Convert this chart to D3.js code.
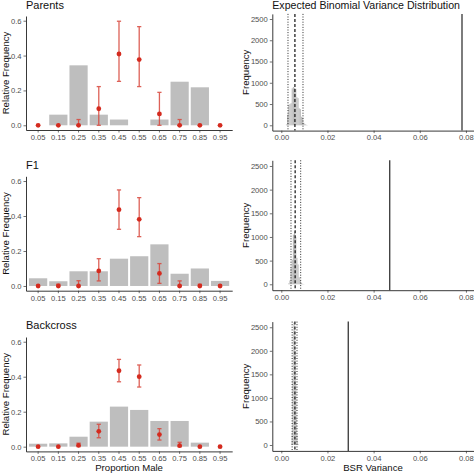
<!DOCTYPE html>
<html><head><meta charset="utf-8">
<script src="https://cdn.jsdelivr.net/npm/d3@7"></script>
<style>
body{margin:0;background:#fff}
svg{display:block}
text{font-family:"Liberation Sans",Arial,Helvetica,sans-serif}
</style>
</head><body>
<svg id="c" width="474" height="474"></svg>
<script>
// ---------- data ----------
const categories = ["0.05","0.15","0.25","0.35","0.45","0.55","0.65","0.75","0.85","0.95"];
const panelTitles = ["Parents","F1","Backcross"];
const rightTitle = "Expected Binomial Variance Distribution";

const barParents   = [0, 0.061, 0.344, 0.061, 0.033, 0, 0.033, 0.25, 0.218, 0];
const barF1        = [0.044, 0.027, 0.084, 0.084, 0.156, 0.17, 0.238, 0.07, 0.10, 0.029];
const barBackcross = [0.017, 0.019, 0.057, 0.143, 0.229, 0.21, 0.147, 0.147, 0.023, 0];

const ptParents   = [0, 0, 0, 0.095, 0.409, 0.377, 0.065, 0, 0, 0];
const loParents   = [0, 0, 0, 0, 0.252, 0.222, 0, 0, 0, 0];
const hiParents   = [0, 0, 0.033, 0.222, 0.597, 0.566, 0.189, 0.033, 0, 0];

const ptF1   = [0, 0, 0, 0.086, 0.436, 0.381, 0.072, 0, 0, 0];
const loF1   = [0, 0, 0, 0.029, 0.324, 0.282, 0.015, 0, 0, 0];
const hiF1   = [0, 0.01, 0.03, 0.156, 0.549, 0.505, 0.128, 0.029, 0.01, 0];

const ptBackcross = [0, 0, 0.008, 0.088, 0.434, 0.40, 0.069, 0.006, 0, 0];
const loBackcross = [0, 0, 0, 0.051, 0.371, 0.341, 0.038, 0, 0, 0];
const hiBackcross = [0, 0, 0.02, 0.128, 0.499, 0.467, 0.103, 0.025, 0, 0];

const leftYTicks = [0, 0.2, 0.4, 0.6];
const rightYTicks = [0, 500, 1000, 1500, 2000, 2500];
const rightXTicks = [0, 0.02, 0.04, 0.06, 0.08];

// simulated variance histograms (bin start, count)
const histStartParents = [0.0020,0.0025,0.0030,0.0035,0.0040,0.0045,0.0050,0.0055,0.0060,0.0065,0.0070,0.0075,0.0080,0.0085,0.0090,0.0095,0.0100,0.0105,0.0110];
const histCountParents = [20,250,480,500,520,870,900,880,860,660,640,400,380,200,180,60,30,12,5];
const histWidthParents = 0.0005;

const histStartF1 = [0.0030,0.0035,0.0040,0.0045,0.0050,0.0055,0.0060,0.0065,0.0070,0.0075,0.0080,0.0085,0.0090,0.0095];
const histCountF1 = [20,80,350,520,1050,1120,1000,560,420,150,80,30,10,5];
const histWidthF1 = 0.0005;

const histStartBackcross = [0.00425,0.0045,0.00475,0.0050,0.00525,0.0055,0.00575,0.0060,0.00625,0.0065,0.00675,0.0070,0.00725];
const histCountBackcross = [30,250,1400,2400,2600,2600,2500,2000,1300,600,250,80,20];
const histWidthBackcross = 0.00025;

// reference lines: lower quantile, mean, upper quantile, observed
const qLow     = [0.0029, 0.0042, 0.0047];
const meanVar  = [0.0059, 0.0060, 0.0059];
const qHigh    = [0.0094, 0.0084, 0.0068];
const observed = [0.0783, 0.0470, 0.0290];

// ---------- drawing ----------
const svg = d3.select("#c");
const tickCol = "#4d4d4d";
const tickFont = 7.6;

const bars = [barParents, barF1, barBackcross];
const pts = [ptParents, ptF1, ptBackcross];
const los = [loParents, loF1, loBackcross];
const his = [hiParents, hiF1, hiBackcross];
const hStarts = [histStartParents, histStartF1, histStartBackcross];
const hCounts = [histCountParents, histCountF1, histCountBackcross];
const hWidths = [histWidthParents, histWidthF1, histWidthBackcross];

// per-row geometry
const leftYRange = [[130, 16], [290.7, 176.3], [451.4, 337]];
const rightYRange = [[130.6, 13.9], [290.2, 160.3], [450.9, 321.6]];
const titleY = [9.2, 169, 329.3];

const xBand = d3.scaleBand().domain(categories).range([26, 232.2]).paddingInner(0.1).paddingOuter(0.15);
const xVar = d3.scaleLinear().domain([-0.0039, 0.0835]).range([272.3, 474]);

function styleAxis(g){
  g.select(".domain").attr("stroke","#222").attr("stroke-width",0.9);
  g.selectAll(".tick line").attr("stroke","#333").attr("stroke-width",0.7);
  g.selectAll(".tick text").attr("fill",tickCol).style("font-size",tickFont+"px");
}

for (let r = 0; r < 3; r++) {
  // ----- left panel -----
  const y = d3.scaleLinear().domain([-0.027, 0.627]).range(leftYRange[r]);
  const L = svg.append("g");
  L.selectAll("rect.bar").data(categories).join("rect")
    .attr("class","bar")
    .attr("x", d => xBand(d))
    .attr("width", xBand.bandwidth())
    .attr("y", (d,i) => y(bars[r][i]))
    .attr("height", (d,i) => y(0) - y(bars[r][i]))
    .attr("fill", "#bebebe");

  const capW = 4.2;
  const errCol = "#d8463b";
  categories.forEach((c,i) => {
    const lo = los[r][i], hi = his[r][i];
    if (hi > lo) {
      const cx = xBand(c) + xBand.bandwidth()/2;
      const eg = L.append("g").attr("stroke", errCol).attr("stroke-width", 1.3).attr("opacity", 0.85);
      eg.append("line").attr("x1",cx).attr("x2",cx).attr("y1",y(lo)).attr("y2",y(hi));
      eg.append("line").attr("x1",cx-capW/2).attr("x2",cx+capW/2).attr("y1",y(lo)).attr("y2",y(lo));
      eg.append("line").attr("x1",cx-capW/2).attr("x2",cx+capW/2).attr("y1",y(hi)).attr("y2",y(hi));
    }
  });
  L.selectAll("circle.pt").data(categories).join("circle")
    .attr("class","pt")
    .attr("cx", d => xBand(d) + xBand.bandwidth()/2)
    .attr("cy", (d,i) => y(pts[r][i]))
    .attr("r", 2.4)
    .attr("fill", "#d42b1f");

  L.append("g").attr("transform", `translate(0,${leftYRange[r][0]})`)
    .call(d3.axisBottom(xBand).tickSize(2.5).tickSizeOuter(0).tickPadding(2))
    .call(styleAxis);
  L.append("g").attr("transform", "translate(26,0)")
    .call(d3.axisLeft(y).tickValues(leftYTicks).tickFormat(d3.format(".1f")).tickSize(2.5).tickSizeOuter(0).tickPadding(2))
    .call(styleAxis);

  L.append("text").attr("x", 26).attr("y", titleY[r]).text(panelTitles[r])
    .style("font-size","11px").attr("fill","#111");
  const midL = (leftYRange[r][0] + leftYRange[r][1]) / 2;
  L.append("text").attr("transform", `translate(8.5,${midL}) rotate(-90)`)
    .attr("text-anchor","middle").text("Relative Frequency")
    .style("font-size","9.6px").attr("fill","#111");

  // ----- right panel -----
  const yv = d3.scaleLinear().domain([-125, 2620]).range(rightYRange[r]);
  const R = svg.append("g");
  R.selectAll("rect.h").data(hStarts[r]).join("rect")
    .attr("class","h")
    .attr("x", d => xVar(d))
    .attr("width", d => xVar(d + hWidths[r]) - xVar(d))
    .attr("y", (d,i) => yv(hCounts[r][i]))
    .attr("height", (d,i) => yv(0) - yv(hCounts[r][i]))
    .attr("fill", "#bdbdbd");

  const top = rightYRange[r][1], bot = rightYRange[r][0];
  const vline = (v, dash, w) => R.append("line")
    .attr("x1", xVar(v)).attr("x2", xVar(v)).attr("y1", top).attr("y2", bot)
    .attr("stroke", "#111").attr("stroke-width", w).attr("stroke-dasharray", dash);
  vline(qLow[r], "1,1.6", 0.9);
  vline(qHigh[r], "1,1.6", 0.9);
  vline(meanVar[r], "3,2", 1.2);
  vline(observed[r], null, 1.1);

  R.append("g").attr("transform", `translate(0,${bot})`)
    .call(d3.axisBottom(xVar).tickValues(rightXTicks).tickFormat(d3.format(".2f")).tickSize(2.5).tickSizeOuter(0).tickPadding(2))
    .call(styleAxis);
  R.append("g").attr("transform", "translate(272.3,0)")
    .call(d3.axisLeft(yv).tickValues(rightYTicks).tickFormat(d3.format("d")).tickSize(2.5).tickSizeOuter(0).tickPadding(2))
    .call(styleAxis);

  const midR = (top + bot) / 2;
  R.append("text").attr("transform", `translate(249,${midR}) rotate(-90)`)
    .attr("text-anchor","middle").text("Frequency")
    .style("font-size","9.6px").attr("fill","#111");
  if (r === 0) {
    R.append("text").attr("x", 272.3).attr("y", 8.6).text(rightTitle)
      .style("font-size","10.6px").attr("fill","#111");
  }
}

svg.append("text").attr("x", 129.1).attr("y", 471).attr("text-anchor","middle")
  .text("Proportion Male").style("font-size","9.6px").attr("fill","#111");
svg.append("text").attr("x", 373).attr("y", 471).attr("text-anchor","middle")
  .text("BSR Variance").style("font-size","9.6px").attr("fill","#111");
</script>
</body></html>
